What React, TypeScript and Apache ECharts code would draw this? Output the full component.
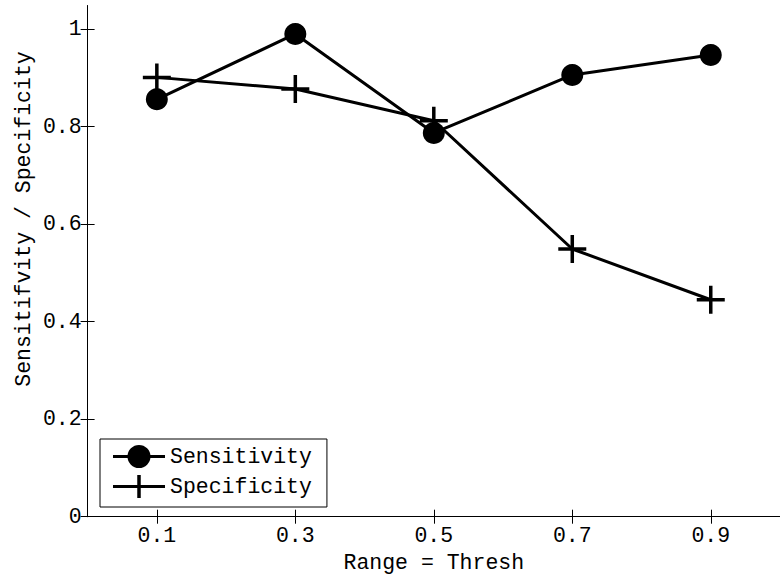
import React, { useEffect, useRef } from "react";
import * as echarts from "echarts";

const xValues = [0.1, 0.3, 0.5, 0.7, 0.9];
const sensitivity = [0.856, 0.99, 0.787, 0.906, 0.947];
const specificity = [0.901, 0.877, 0.812, 0.549, 0.445];
const xTicks = [0.1, 0.3, 0.5, 0.7, 0.9];
const yTicks = [0, 0.2, 0.4, 0.6, 0.8, 1];

const FONT = "Liberation Mono";
const FS = 21.5;
const PLUS =
  "path://M12.25,0h3.5v12.25h12.25v3.5h-12.25v12.25h-3.5v-12.25h-12.25v-3.5h12.25z";
const LEG_CIRCLE =
  "path://M0,10h52v3H0z M14.5,11.5a11.5,11.5 0 1,1 23,0a11.5,11.5 0 1,1 -23,0z";
const LEG_PLUS = "path://M0,10h52v3H0z M24.25,0h3.5v23h-3.5z";

export default function App() {
  const ref = useRef<HTMLDivElement>(null);
  useEffect(() => {
    document.body.style.margin = "0";
    const chart = echarts.init(ref.current!, null, { renderer: "svg" });
    const axisLine = { show: true, lineStyle: { color: "#000", width: 1 } };
    const tick = (vals: number[]) => ({
      show: true,
      inside: true,
      length: 7,
      customValues: vals,
      lineStyle: { color: "#000", width: 1 },
    });
    chart.setOption({
      animation: false,
      backgroundColor: "#fff",
      grid: { left: 87.6, right: -4.7, top: 5.7, bottom: 63.3, containLabel: false },
      legend: {
        orient: "vertical",
        left: 100,
        top: 439,
        padding: [6, 15, 9, 13],
        itemWidth: 52,
        itemHeight: 23,
        itemGap: 7,
        borderColor: "#000",
        borderWidth: 1,
        backgroundColor: "#fff",
        textStyle: { fontFamily: FONT, fontSize: FS, color: "#000" },
        data: [
          { name: "Sensitivity", icon: LEG_CIRCLE },
          { name: "Specificity", icon: LEG_PLUS },
        ],
      },
      xAxis: [
        {
          type: "value",
          min: 0,
          max: 1,
          axisLine,
          axisTick: tick(xTicks),
          splitLine: { show: false },
          axisLabel: {
            customValues: xTicks,
            formatter: (v: number) => String(v),
            fontFamily: FONT,
            fontSize: FS,
            color: "#000",
            margin: 8,
          },
          name: "Range = Thresh",
          nameLocation: "middle",
          nameGap: 30,
          nameTextStyle: { fontFamily: FONT, fontSize: FS, color: "#000" },
        },
        {
          type: "value",
          position: "top",
          min: 0,
          max: 1,
          axisLine,
          axisTick: tick(xTicks),
          splitLine: { show: false },
          axisLabel: { show: false },
        },
      ],
      yAxis: [
        {
          type: "value",
          min: 0,
          max: 1.048,
          axisLine,
          axisTick: tick(yTicks),
          splitLine: { show: false },
          axisLabel: {
            customValues: yTicks,
            formatter: (v: number) => String(v),
            fontFamily: FONT,
            fontSize: FS,
            color: "#000",
            margin: 6,
          },
        },
        {
          type: "value",
          position: "right",
          min: 0,
          max: 1.048,
          axisLine,
          axisTick: tick(yTicks),
          splitLine: { show: false },
          axisLabel: { show: false },
        },
      ],
      graphic: [
        {
          type: "text",
          x: 24,
          y: 219,
          rotation: Math.PI / 2,
          style: {
            text: "Sensitifvity / Specificity",
            fontFamily: FONT,
            fontSize: FS,
            fill: "#000",
            align: "center",
            verticalAlign: "middle",
          },
        },
      ],
      series: [
        {
          name: "Sensitivity",
          type: "line",
          xAxisIndex: 0,
          yAxisIndex: 0,
          data: xValues.map((x, i) => [x, sensitivity[i]]),
          symbol: "circle",
          symbolSize: 22,
          lineStyle: { color: "#000", width: 3 },
          itemStyle: { color: "#000" },
        },
        {
          name: "Specificity",
          type: "line",
          xAxisIndex: 0,
          yAxisIndex: 0,
          data: xValues.map((x, i) => [x, specificity[i]]),
          symbol: PLUS,
          symbolSize: 28,
          lineStyle: { color: "#000", width: 3 },
          itemStyle: { color: "#000" },
        },
      ],
    });
    return () => chart.dispose();
  }, []);
  return <div ref={ref} style={{ width: 780, height: 580 }} />;
}
